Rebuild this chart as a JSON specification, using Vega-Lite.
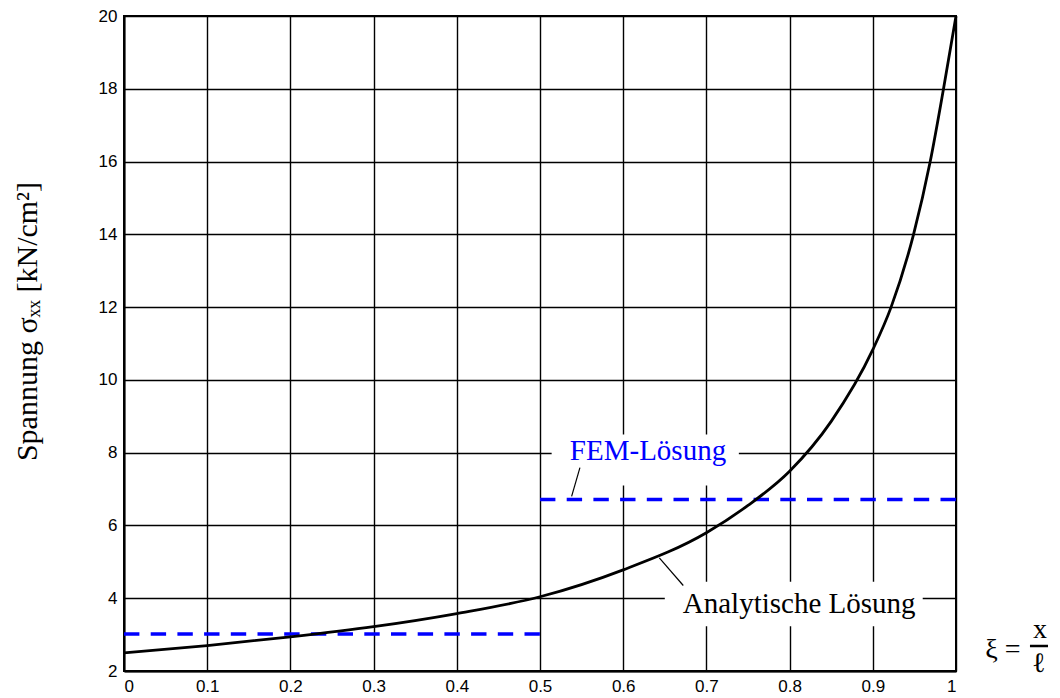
{
  "$schema": "https://vega.github.io/schema/vega-lite/v6.json",
  "width": 832,
  "height": 655,
  "autosize": "none",
  "padding": {"left": 124, "top": 16, "right": 104, "bottom": 27},
  "background": "white",
  "config": {
    "view": {"stroke": "black", "strokeWidth": 2},
    "axis": {
      "grid": true,
      "gridColor": "black",
      "gridOpacity": 1,
      "gridWidth": 1.4,
      "domain": true,
      "domainColor": "black",
      "domainWidth": 2,
      "ticks": false,
      "labelFont": "Liberation Sans",
      "labelFontSize": 17,
      "labelColor": "black",
      "labelPadding": 7
    }
  },
  "datasets": {
    "curve": [
      {"x": 0.0, "y": 2.50},
      {"x": 0.1, "y": 2.70},
      {"x": 0.2, "y": 2.94},
      {"x": 0.3, "y": 3.22},
      {"x": 0.4, "y": 3.58},
      {"x": 0.5, "y": 4.04},
      {"x": 0.6, "y": 4.78},
      {"x": 0.7, "y": 5.80},
      {"x": 0.75, "y": 6.55},
      {"x": 0.8, "y": 7.49},
      {"x": 0.85, "y": 8.86},
      {"x": 0.9, "y": 10.83},
      {"x": 0.922, "y": 12.0},
      {"x": 0.949, "y": 14.0},
      {"x": 0.969, "y": 16.0},
      {"x": 0.985, "y": 18.0},
      {"x": 1.0, "y": 20.0}
    ],
    "fem": [
      {"seg": "a", "x": 0.0, "y": 3.02},
      {"seg": "a", "x": 0.5, "y": 3.02},
      {"seg": "b", "x": 0.5, "y": 6.71},
      {"seg": "b", "x": 1.0, "y": 6.71}
    ],
    "boxes": [
      {"x": 0.514, "x2": 0.739, "y": 7.1, "y2": 8.5},
      {"x": 0.65, "x2": 0.96, "y": 3.23, "y2": 4.45}
    ],
    "leaders": [
      {"x": 0.548, "y": 7.59, "x2": 0.538, "y2": 6.8},
      {"x": 0.6434, "y": 5.11, "x2": 0.6722, "y2": 4.35}
    ],
    "femLabel": [{"label": "FEM-Lösung", "x": 0.6298, "y": 7.79}],
    "anaLabel": [{"label": "Analytische Lösung", "x": 0.8115, "y": 3.6}],
    "xiLabel": [
      {"label": "ξ =", "x": 1.0565, "y": 2.59},
      {"label": "x", "x": 1.101, "y": 3.14},
      {"label": "ℓ", "x": 1.0998, "y": 2.18}
    ],
    "fracBar": [{"x": 1.0889, "x2": 1.1106, "y": 2.687}]
  },
  "encoding": {
    "x": {
      "field": "x",
      "type": "quantitative",
      "scale": {"domain": [0, 1], "nice": false, "zero": false},
      "axis": {
        "values": [0, 0.1, 0.2, 0.3, 0.4, 0.5, 0.6, 0.7, 0.8, 0.9, 1],
        "format": "~g",
        "title": null
      }
    },
    "y": {
      "field": "y",
      "type": "quantitative",
      "scale": {"domain": [2, 20], "nice": false, "zero": false},
      "axis": {
        "values": [2, 4, 6, 8, 10, 12, 14, 16, 18, 20],
        "title": "Spannung σₓₓ [kN/cm²]",
        "titleFont": "Liberation Serif",
        "titleFontSize": 30,
        "titleFontWeight": "normal",
        "titleColor": "black",
        "titlePadding": 56,
        "titleY": 305
      }
    }
  },
  "layer": [
    {
      "data": {"name": "boxes"},
      "mark": {"type": "rect", "fill": "white", "stroke": null},
      "encoding": {"x2": {"field": "x2"}, "y2": {"field": "y2"}}
    },
    {
      "data": {"name": "leaders"},
      "mark": {"type": "rule", "color": "black", "strokeWidth": 1.2},
      "encoding": {"x2": {"field": "x2"}, "y2": {"field": "y2"}}
    },
    {
      "data": {"name": "fem"},
      "mark": {"type": "line", "color": "#0000ff", "strokeWidth": 3.5, "strokeDash": [15.4, 11.3]},
      "encoding": {"detail": {"field": "seg"}}
    },
    {
      "data": {"name": "curve"},
      "mark": {"type": "line", "color": "black", "strokeWidth": 2.8, "interpolate": "monotone"},
      "encoding": {}
    },
    {
      "data": {"name": "femLabel"},
      "mark": {"type": "text", "font": "Liberation Serif", "fontSize": 29, "color": "#0000ff", "align": "center", "baseline": "alphabetic"},
      "encoding": {"text": {"field": "label"}}
    },
    {
      "data": {"name": "anaLabel"},
      "mark": {"type": "text", "font": "Liberation Serif", "fontSize": 29, "color": "black", "align": "center", "baseline": "alphabetic"},
      "encoding": {"text": {"field": "label"}}
    },
    {
      "data": {"name": "xiLabel"},
      "mark": {"type": "text", "font": "Liberation Serif", "fontSize": 28, "color": "black", "align": "center", "baseline": "middle"},
      "encoding": {"text": {"field": "label"}}
    },
    {
      "data": {"name": "fracBar"},
      "mark": {"type": "rule", "color": "black", "strokeWidth": 2.5},
      "encoding": {"x2": {"field": "x2"}}
    }
  ]
}
